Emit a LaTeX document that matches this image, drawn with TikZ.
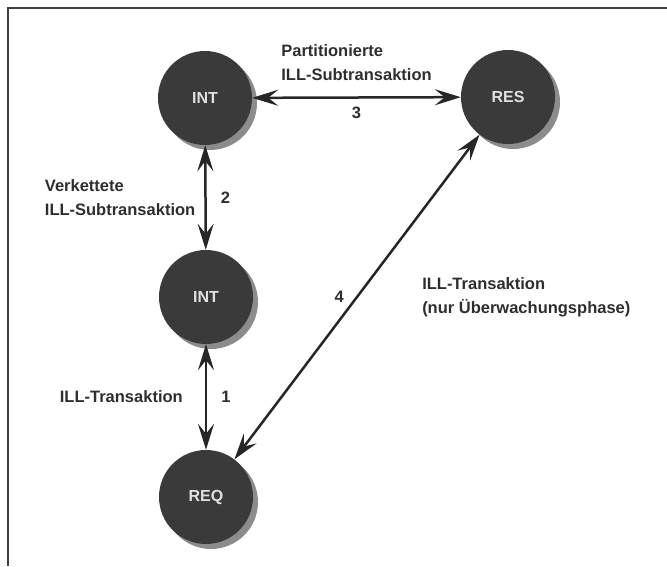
\documentclass[tikz,border=0pt]{standalone}
\usepackage{fontspec}
\setmainfont{Liberation Sans}
\usepackage{tikz}
\usetikzlibrary{arrows.meta}
\usetikzlibrary{shadows}
\usetikzlibrary{positioning}
\definecolor{stationgray}{HTML}{3A3A3A}
\definecolor{shadowgray}{HTML}{8C8C8C}
\definecolor{textgray}{HTML}{2E2E2E}
\newcommand{\lblfont}{\fontsize{16.5}{24}\selectfont\bfseries}
\newcommand{\stationfont}{\fontsize{16}{19}\selectfont\bfseries}
\tikzset{station/.style={circle, fill=stationgray, minimum size=94pt, inner sep=0pt,
    text=white!88!black, font=\stationfont,
    drop shadow={shadow xshift=5pt, shadow yshift=-5pt, fill=shadowgray, opacity=1}}}
\tikzset{lbl/.style={font=\lblfont, text=textgray, align=left, inner sep=0pt}}
\tikzset{link/.style={line width=2.5pt, draw=black!85,
    {Stealth[length=26pt,width=16pt,inset=10pt]}-{Stealth[length=26pt,width=16pt,inset=10pt]}}}

\begin{document}
\begin{tikzpicture}[x=1pt,y=-1pt]
		\useasboundingbox (0,0) rectangle (667,566);
		\draw[black!75, line width=1.5pt] (667,8) -- (8,8) -- (8,566);
		\node[station] (I1) at (205,98) {INT};
		\node[station] (R) at (508,97) {RES};
		\node[station] (I2) at (206,297) {INT};
		\node[station] (Q) at (206,497) {REQ};
		\draw[link] (I1) -- node[lbl, below=8pt]{3} node[lbl, above=16pt]{Partitionierte\\ILL-Subtransaktion} (R);
		\draw[link] (I1) -- node[lbl, right=14pt]{2} node[lbl, left=9pt]{Verkettete\\ILL-Subtransaktion} (I2);
		\draw[link] (I2) -- node[lbl, right=14pt]{1} node[lbl, left=22pt]{ILL-Transaktion} (Q);
		\draw[link] (Q) -- node[lbl, left=12pt]{4} node[lbl, right=64pt]{ILL-Transaktion\\(nur Überwachungsphase)} (R);
	\end{tikzpicture}
\end{document}
